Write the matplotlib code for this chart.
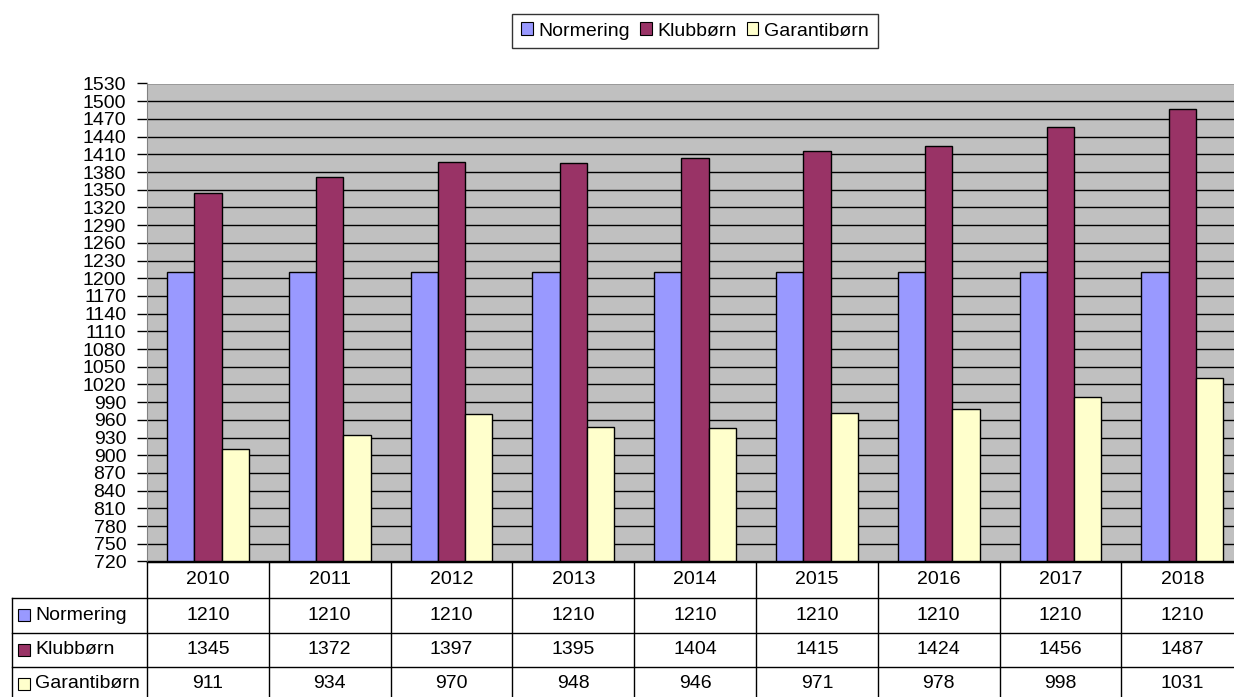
import matplotlib
matplotlib.use("Agg")
import matplotlib.pyplot as plt
import numpy as np
from matplotlib.patches import Rectangle
from matplotlib.lines import Line2D

years = ["2010", "2011", "2012", "2013", "2014", "2015", "2016", "2017", "2018"]
series_names = ["Normering", "Klubbørn", "Garantibørn"]
normering = [1210, 1210, 1210, 1210, 1210, 1210, 1210, 1210, 1210]
klubborn = [1345, 1372, 1397, 1395, 1404, 1415, 1424, 1456, 1487]
garantiborn = [911, 934, 970, 948, 946, 971, 978, 998, 1031]
colors = ["#9999FF", "#993366", "#FFFFCC"]

plt.rcParams['font.family'] = ['Liberation Sans', 'DejaVu Sans']
FS = 14

W, H = 1234, 697
fig = plt.figure(figsize=(W / 100, H / 100), dpi=100)
L, T, B = 147, 83.5, 561.5
n = len(years)
col_w = 121.8
R = L + n * col_w  # extends past the right edge of the image
ax = fig.add_axes([L / W, 1 - B / H, (R - L) / W, (B - T) / H])
ax.set_facecolor("#C0C0C0")

x = np.arange(n)
bw = 0.224
data = [normering, klubborn, garantiborn]
ymin, ymax = 720, 1530
for i, (vals, c) in enumerate(zip(data, colors)):
    ax.bar(x + (i - 1) * bw, np.array(vals) - ymin, bottom=ymin, width=bw, color=c,
           edgecolor="black", linewidth=1.0, zorder=3)

ax.set_xlim(-0.5, n - 0.5)
ax.set_ylim(ymin, ymax)
ax.set_yticks(np.arange(720, 1531, 30))
ax.yaxis.grid(True, color="black", linewidth=1.0, zorder=0)
ax.set_axisbelow(True)
ax.tick_params(axis='y', length=7, width=1, labelsize=FS, pad=8, direction='out')
ax.set_xticks([])
for s in ["top", "right"]:
    ax.spines[s].set_visible(False)
ax.spines["left"].set_color("#808080")
ax.spines["bottom"].set_color("black")

# Data table drawn below the axes
def fy(py):
    return 1 - py / H
def fx(px):
    return px / W

row_lines = [561.5, 597.5, 633, 667, 710]
tl_x = 12
lw = 1.0
fig.add_artist(Line2D([fx(L), fx(R)], [fy(561.5), fy(561.5)], color="black", lw=lw))
for yy in row_lines[1:4]:
    fig.add_artist(Line2D([fx(tl_x), fx(R)], [fy(yy), fy(yy)], color="black", lw=lw))
fig.add_artist(Line2D([fx(tl_x), fx(tl_x)], [fy(597.5), fy(710)], color="black", lw=lw))
for j in range(n + 1):
    xx = L + j * col_w
    fig.add_artist(Line2D([fx(xx), fx(xx)], [fy(561.5), fy(710)], color="black", lw=lw))

for j, yr in enumerate(years):
    cx = L + (j + 0.5) * col_w
    fig.text(fx(cx), fy((561.5 + 597.5) / 2), yr, ha="center", va="center", fontsize=FS)
row_centers = [615, 650, 684]
for r, (name, vals, c) in enumerate(zip(series_names, data, colors)):
    cy = row_centers[r]
    fig.add_artist(Rectangle((fx(18), fy(cy + 6)), 12 / W, 12 / H, facecolor=c,
                             edgecolor="black", lw=0.8, transform=fig.transFigure))
    fig.text(fx(35), fy(cy), name, ha="left", va="center", fontsize=FS)
    for j, v in enumerate(vals):
        cx = L + (j + 0.5) * col_w
        fig.text(fx(cx), fy(cy), str(v), ha="center", va="center", fontsize=FS)

# legend
handles = [Rectangle((0, 0), 1, 1, facecolor=c, edgecolor="black", lw=0.8) for c in colors]
leg = fig.legend(handles, series_names, loc="center", bbox_to_anchor=(fx(695), fy(31)),
                 ncol=3, fontsize=FS, frameon=True, fancybox=False, handlelength=0.6,
                 handleheight=0.6, handletextpad=0.3, columnspacing=0.5,
                 borderpad=0.45, borderaxespad=0)
leg.get_frame().set_edgecolor("black")
leg.get_frame().set_linewidth(1.0)

fig.savefig("out.png", dpi=100)
